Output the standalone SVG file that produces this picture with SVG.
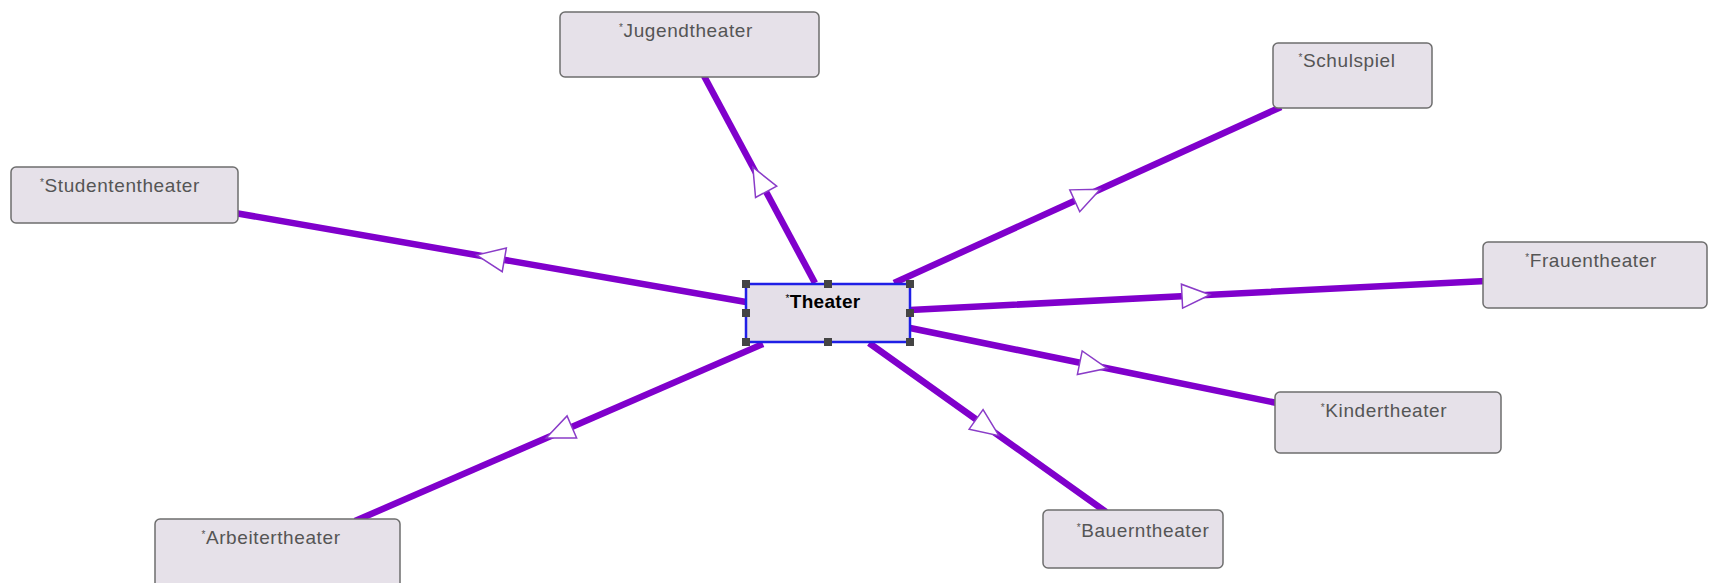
<svg xmlns="http://www.w3.org/2000/svg" width="1709" height="583" viewBox="0 0 1709 583">
  <style>
    .node { fill: #e6e1e9; stroke: #6e6e6e; stroke-width: 1.5; }
    .label { font-family: "Liberation Sans", Arial, sans-serif; font-size: 19px; fill: #555555; text-anchor: middle; letter-spacing: 0.6px; }
    .star { font-size: 10px; }
    .main { fill: #e4dfe8; stroke: #1f1fe6; stroke-width: 2.5; }
    .main-label { font-family: "Liberation Sans", Arial, sans-serif; font-size: 19px; font-weight: bold; fill: #000000; text-anchor: middle; letter-spacing: 0.3px; }
    .handle { fill: #444444; }
    .edge { fill: none; stroke: #8000cc; stroke-width: 6.5; marker-mid: url(#open-arrow); }
  </style>
  <defs>
    <marker id="open-arrow" viewBox="-16 -14 32 28" refX="0" refY="0" markerWidth="32" markerHeight="28" markerUnits="userSpaceOnUse" orient="auto">
      <path d="M14,0 L-14,-12 L-14,12 Z" fill="#ffffff" stroke="#8a3cc8" stroke-width="1.5"/>
    </marker>
  </defs>

  <!-- connectors from the central topic to each subtopic -->
  <g id="connectors">
    <path class="edge" d="M815,283 L759.5,179.5 L704,76"/>
    <path class="edge" d="M746,302 L490.5,257.5 L235,213"/>
    <path class="edge" d="M894,283 L1087.5,195 L1281,107"/>
    <path class="edge" d="M910,310 L1196,295.5 L1486,281"/>
    <path class="edge" d="M910,328 L1093.5,365.5 L1277,403"/>
    <path class="edge" d="M869,343 L987.5,427.5 L1106,512"/>
    <path class="edge" d="M763,344 L559,432.5 L355,521"/>
  </g>

  <g id="node-jugendtheater">
    <rect class="node" x="560" y="12" width="259" height="65" rx="5"/>
    <text class="label" x="686" y="37"><tspan class="star" dy="-6">*</tspan><tspan dy="6">Jugendtheater</tspan></text>
  </g>

  <g id="node-studententheater">
    <rect class="node" x="11" y="167" width="227" height="56" rx="5"/>
    <text class="label" x="120" y="192"><tspan class="star" dy="-6">*</tspan><tspan dy="6">Studententheater</tspan></text>
  </g>

  <g id="node-schulspiel">
    <rect class="node" x="1273" y="43" width="159" height="65" rx="5"/>
    <text class="label" x="1347" y="67"><tspan class="star" dy="-6">*</tspan><tspan dy="6">Schulspiel</tspan></text>
  </g>

  <g id="node-frauentheater">
    <rect class="node" x="1483" y="242" width="224" height="66" rx="5"/>
    <text class="label" x="1591" y="267"><tspan class="star" dy="-6">*</tspan><tspan dy="6">Frauentheater</tspan></text>
  </g>

  <g id="node-kindertheater">
    <rect class="node" x="1275" y="392" width="226" height="61" rx="5"/>
    <text class="label" x="1384" y="417"><tspan class="star" dy="-6">*</tspan><tspan dy="6">Kindertheater</tspan></text>
  </g>

  <g id="node-bauerntheater">
    <rect class="node" x="1043" y="510" width="180" height="58" rx="5"/>
    <text class="label" x="1143" y="537"><tspan class="star" dy="-6">*</tspan><tspan dy="6">Bauerntheater</tspan></text>
  </g>

  <g id="node-arbeitertheater">
    <rect class="node" x="155" y="519" width="245" height="72" rx="5"/>
    <text class="label" x="271" y="544"><tspan class="star" dy="-6">*</tspan><tspan dy="6">Arbeitertheater</tspan></text>
  </g>

  <g id="node-theater">
    <rect class="main" x="746" y="284" width="164" height="58"/>
    <text class="main-label" x="823" y="308"><tspan class="star" dy="-6" font-weight="normal">*</tspan><tspan dy="6">Theater</tspan></text>
    <!-- selection handles -->
    <rect class="handle" x="742" y="280" width="8" height="8"/>
    <rect class="handle" x="824" y="280" width="8" height="8"/>
    <rect class="handle" x="906" y="280" width="8" height="8"/>
    <rect class="handle" x="742" y="309" width="8" height="8"/>
    <rect class="handle" x="906" y="309" width="8" height="8"/>
    <rect class="handle" x="742" y="338" width="8" height="8"/>
    <rect class="handle" x="824" y="338" width="8" height="8"/>
    <rect class="handle" x="906" y="338" width="8" height="8"/>
  </g>
</svg>
